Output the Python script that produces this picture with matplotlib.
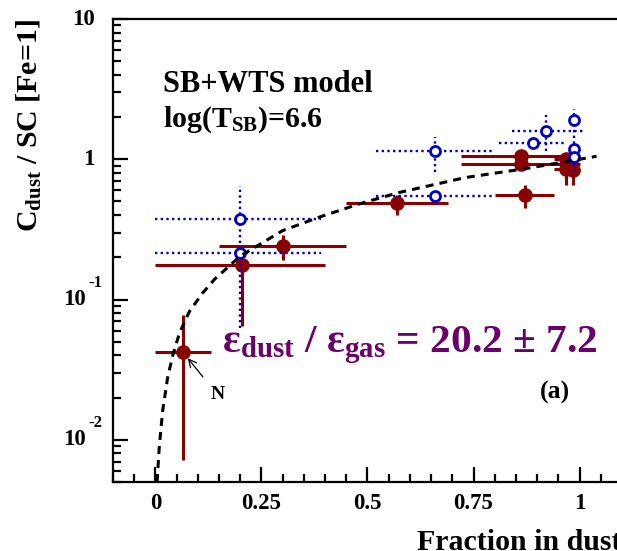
import matplotlib
matplotlib.use("Agg")
import matplotlib.pyplot as plt
from matplotlib.ticker import FixedLocator, LogLocator, MultipleLocator, NullFormatter

plt.rcParams['font.family'] = 'Liberation Serif'
plt.rcParams['font.weight'] = 'bold'
plt.rcParams['axes.labelweight'] = 'bold'
plt.rcParams['mathtext.fontset'] = 'custom'
plt.rcParams['mathtext.rm'] = 'Liberation Serif:bold'
plt.rcParams['mathtext.bf'] = 'Liberation Serif:bold'
plt.rcParams['mathtext.it'] = 'Liberation Serif:bold'
plt.rcParams['mathtext.default'] = 'bf'

# filled points (with errors)
red_x = [0.064, 0.203, 0.30, 0.57, 0.871, 0.861, 0.861, 0.969, 0.968, 0.985]
red_y = [0.0425, 0.176, 0.24, 0.485, 0.553, 1.055, 0.92, 1.0, 0.85, 0.84]
red_xlo = [0.0, 0.0, 0.15, 0.45, 0.80, 0.72, 0.72, 0.94, 0.94, 0.96]
red_xhi = [0.13, 0.40, 0.45, 0.69, 0.94, 1.0, 1.0, 1.0, 0.99, 1.0]
red_ylo = [0.0072, 0.065, 0.19, 0.40, 0.447, 1.055, 0.92, 1.0, 0.66, 0.66]
red_yhi = [0.077, 0.22, 0.287, 0.56, 0.66, 1.055, 0.92, 1.0, 1.0, 1.0]

# open points
blue_x = [0.2, 0.2, 0.66, 0.66, 0.89, 0.921, 0.986, 0.986, 0.986]
blue_y = [0.377, 0.216, 1.14, 0.547, 1.316, 1.59, 1.91, 1.18, 1.045]
blue_xlo = [0.0, 0.0, 0.52, 0.52, 0.81, 0.84, 0.986, 0.986, 0.986]
blue_xhi = [0.39, 0.39, 0.80, 0.80, 0.97, 1.01, 0.986, 0.986, 0.986]
blue_ylo = [0.063, 0.216, 0.81, 0.547, 1.316, 1.15, 0.81, 1.18, 1.045]
blue_yhi = [0.64, 0.216, 1.43, 0.547, 1.316, 2.06, 2.27, 1.18, 1.045]

# model curve
curve_x = [0.004, 0.009, 0.017, 0.029, 0.041, 0.057, 0.08, 0.11, 0.14, 0.2, 0.3,
           0.39, 0.48, 0.57, 0.73, 0.875, 1.04]
curve_y = [0.005, 0.0088, 0.016, 0.028, 0.040, 0.058, 0.082, 0.11, 0.14, 0.204, 0.31,
           0.39, 0.48, 0.575, 0.74, 0.86, 1.05]

ytick_vals = [0.01, 0.1, 1, 10]
ytick_main = ['10', '10', '1', '10']
ytick_exp = ['-2', '-1', '', '']
xtick_vals = [0, 0.25, 0.5, 0.75, 1]
xtick_labels = ['0', '0.25', '0.5', '0.75', '1']

red = '#880000'
blue = '#0000cc'
purple = '#6a006a'

fig = plt.figure(figsize=(6.17, 5.51), dpi=100)
ax = fig.add_axes([0.1831, 0.1252, 0.8250, 0.8403])
ax.set_yscale('log')
ax.set_xlim(-0.1, 1.1)
ax.set_ylim(0.005, 10)

def asym(v, lo, hi):
    return [[a - b for a, b in zip(v, lo)], [b - a for a, b in zip(v, hi)]]

ax.errorbar(red_x, red_y, xerr=asym(red_x, red_xlo, red_xhi), yerr=asym(red_y, red_ylo, red_yhi),
            fmt='o', color=red, ms=9.5, elinewidth=2.2, capsize=0, zorder=3)

eb = ax.errorbar(blue_x, blue_y, xerr=asym(blue_x, blue_xlo, blue_xhi),
                 yerr=asym(blue_y, blue_ylo, blue_yhi),
                 fmt='o', color=blue, mfc='white', mec=blue, ms=7.2, mew=2.0,
                 elinewidth=1.7, capsize=0, zorder=4)
for lc in eb[2]:
    lc.set_linestyle((0, (1, 1.4)))

ax.plot(curve_x, curve_y, color='black', lw=2.2, ls=(0, (2.6, 2.0)), zorder=5)

ax.annotate('N', xy=(red_x[0], red_y[0]), xytext=(25, -31), textcoords='offset points',
            fontsize=14, ha='center', va='center',
            arrowprops=dict(arrowstyle='->', color='black', lw=0.9, shrinkA=6, shrinkB=6))

ax.text(0.098, 0.843, 'SB+WTS model', transform=ax.transAxes, fontsize=22, va='baseline')
ax.text(0.098, 0.768, r'log(T$_{SB}$)=6.6', transform=ax.transAxes, fontsize=21.5, va='baseline')
ax.text(0.214, 0.281, 'ε$_{dust}$ / ε$_{gas}$ = 20.2 ± 7.2', transform=ax.transAxes,
        fontsize=29.8, color=purple, va='baseline')
ax.text(0.839, 0.194, '(a)', transform=ax.transAxes, fontsize=18.5, va='center')

# axes styling
for s in ax.spines.values():
    s.set_linewidth(1.6)
ax.xaxis.set_major_locator(FixedLocator(xtick_vals))
ax.xaxis.set_minor_locator(MultipleLocator(0.05))
ax.set_xticklabels(xtick_labels, fontsize=16.5)
ax.yaxis.set_major_locator(FixedLocator(ytick_vals))
ax.yaxis.set_minor_locator(LogLocator(base=10, subs=range(2, 10)))
ax.yaxis.set_minor_formatter(NullFormatter())
ax.set_yticklabels([])
ax.tick_params(which='both', direction='in', width=1.6)
ax.tick_params(which='major', length=11)
ax.tick_params(which='minor', length=5.5)
ax.tick_params(axis='x', pad=8)
ax.tick_params(axis='y', which='both', left=True, right=False)
ax.tick_params(axis='x', which='both', bottom=True, top=False)

yt = ('axes fraction', 'data')
for v, m, e in zip(ytick_vals, ytick_main, ytick_exp):
    if e:
        ax.annotate(m, xy=(0, v), xycoords=yt, xytext=(-19.5, 0), textcoords='offset points',
                    ha='right', va='center', fontsize=16.5)
        ax.annotate(e, xy=(0, v), xycoords=yt, xytext=(-12.5, 12), textcoords='offset points',
                    ha='center', va='center', fontsize=12)
    else:
        ax.annotate(m, xy=(0, v), xycoords=yt, xytext=(-13, 0), textcoords='offset points',
                    ha='right', va='center', fontsize=16.5)

ax.set_xlabel('Fraction in dust', loc='right', fontsize=21.5, labelpad=11)
ax.set_ylabel(r'C$_{dust}$ / SC [Fe=1]', loc='top', fontsize=21.5, labelpad=46)

fig.savefig('out.png', dpi=100)
